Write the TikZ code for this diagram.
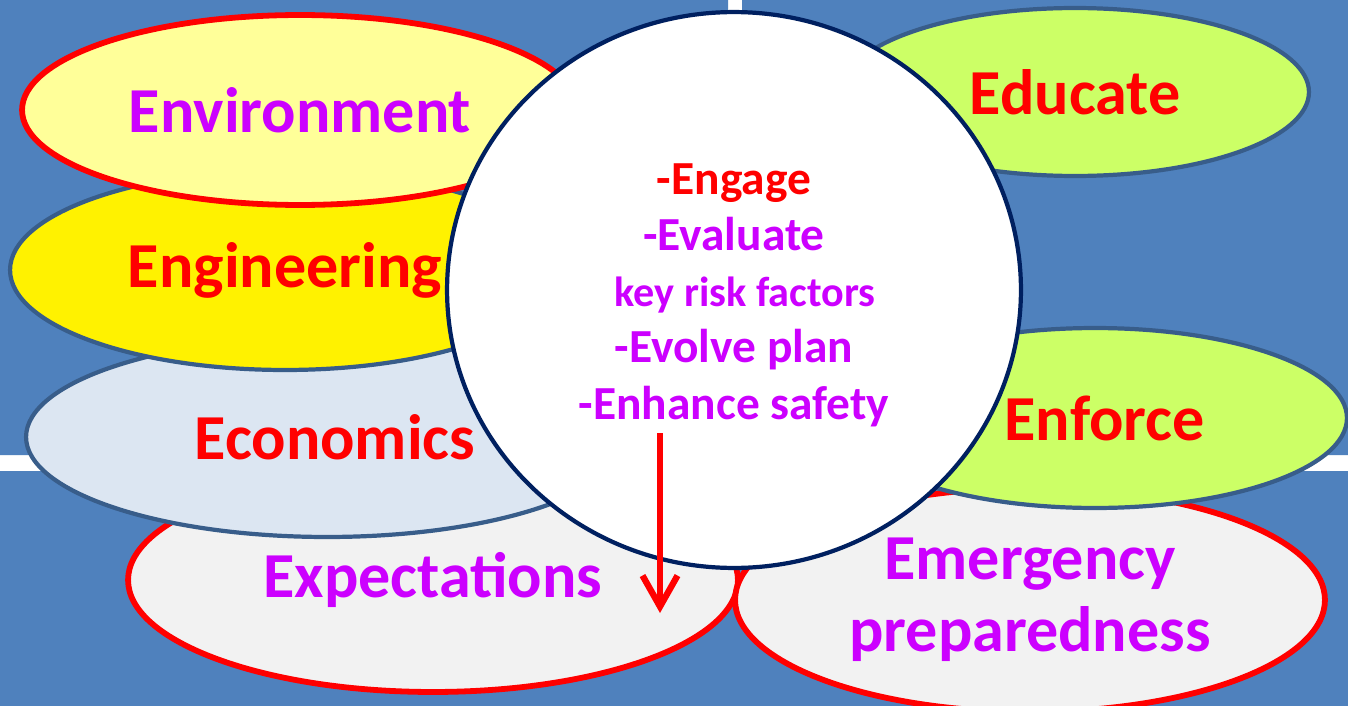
\documentclass[tikz,border=0pt]{standalone}
\usepackage{fontspec}
\setmainfont{Carlito}
\usepackage{tikz}
\usetikzlibrary{shapes.geometric,arrows.meta}
\definecolor{bgblue}{HTML}{4F81BD}
\definecolor{rimblue}{HTML}{385D8A}
\definecolor{navy}{HTML}{002060}
\definecolor{paleyellow}{HTML}{FFFF99}
\definecolor{paleblue}{HTML}{DCE6F2}
\definecolor{palegrey}{HTML}{F2F2F2}
\definecolor{lime}{HTML}{CCFF66}
\definecolor{violet}{HTML}{CC00FF}
\begin{document}
\begin{tikzpicture}[x=0.02cm, y=-0.02cm,
	oval/.style={ellipse, inner sep=0pt, align=center, font=\fontsize{36.5}{41}\selectfont\bfseries},
	redrim/.style={oval, draw=red, line width=3.3pt},
	bluerim/.style={oval, draw=rimblue, line width=2.4pt},
	hub/.style={ellipse, inner sep=0pt, draw=navy, line width=2.4pt, fill=white},
	hubtext/.style={align=center, font=\fontsize{27}{32}\selectfont\bfseries}]
\useasboundingbox (0,0) rectangle (1348,706);
\fill[white] (0,0) rectangle (1348,706);
\fill[bgblue] (0,0) rectangle (728,455) (742,0) rectangle (1348,455) (0,471) rectangle (1348,706);
\node[redrim, fill=palegrey, minimum width=12.2cm, minimum height=4.48cm, text=violet] (expect) at (433,580) {Expectations};
\node[bluerim, fill=paleblue, minimum width=12.04cm, minimum height=4cm, text=red] (econ) at (327,437) {\hspace{9pt}Economics};
\node[bluerim, fill=yellow, minimum width=11cm, minimum height=4cm, text=red] (engin) at (285,270) {Engineering};
\node[redrim, fill=paleyellow, minimum width=11.12cm, minimum height=3.8cm, text=violet] (enviro) at (300,110) {Environment};
\node[bluerim, fill=lime, minimum width=9.36cm, minimum height=3.36cm, text=red] (educ) at (1075,92) {Educate};
\node[redrim, fill=palegrey, minimum width=11.8cm, minimum height=4.48cm, text=violet] (emerg) at (1030,600) {Emergency\\preparedness};
\node[bluerim, fill=lime, minimum width=10.08cm, minimum height=3.6cm, text=red] (enforce) at (1095,418) {\hspace{11pt}Enforce};
\node[hub, minimum width=11.48cm, minimum height=11.12cm] (hub) at (734,290) {};
\node[hubtext] (hublist) at (734,295) {\textcolor{red}{-Engage}\\\textcolor{violet}{-Evaluate}\\\textcolor{violet}{\hspace{12.5pt}\fontsize{24}{32}\selectfont key risk factors}\\\textcolor{violet}{-Evolve plan}\\\textcolor{violet}{-Enhance safety}};
\coordinate (arrtop) at (660,433);
\coordinate (arrtip) at (660,613);
\draw[-{Straight Barb[length=0.62cm, width=0.7cm]}, red, line width=3.6pt] (arrtop) -- (arrtip);
\end{tikzpicture}
\end{document}
